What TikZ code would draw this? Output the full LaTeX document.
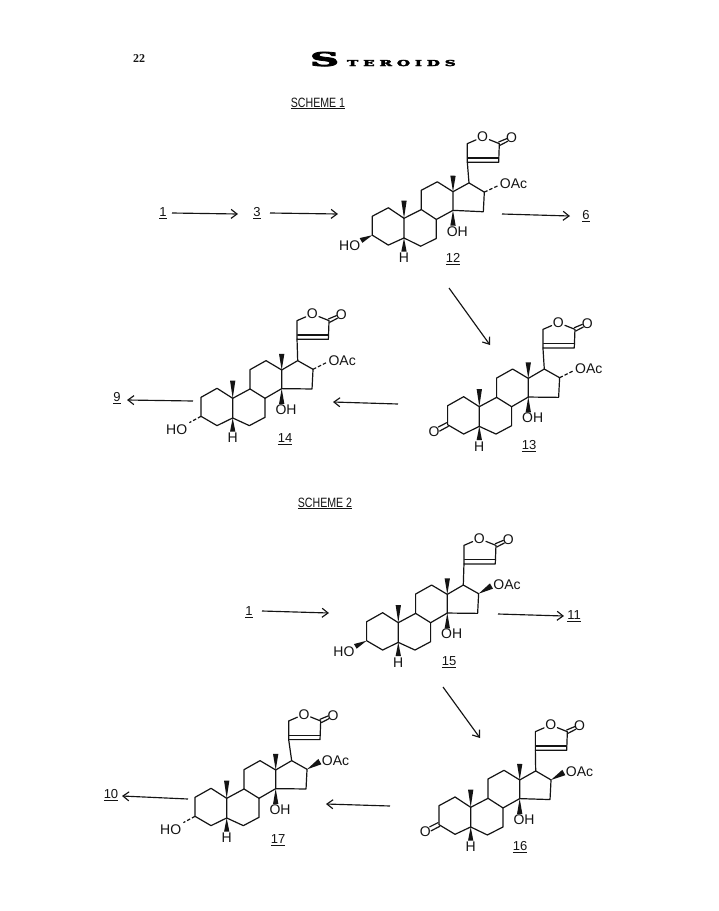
\documentclass[tikz,border=0pt]{standalone}
\usepackage{fontspec}
\setmainfont{Liberation Sans}
\newfontfamily\hdfont[BoldFeatures={FakeBold=4}]{DejaVu Serif}
\newfontfamily\pnfont{Liberation Serif}
\usetikzlibrary{arrows.meta,calc}
\definecolor{ink}{gray}{0.08}
\tikzset{
  bond/.style={draw=ink,line width=1.2pt,line join=round,line cap=round},
  hash/.style={draw=ink,line width=1.2pt,dash pattern=on 3.5pt off 2pt},
  lab/.style={text=ink,font=\fontsize{14}{15}\selectfont,inner sep=1pt},
  num/.style={text=ink,font=\fontsize{13}{14}\selectfont,inner sep=0pt},
  rxn/.style={draw=ink,line width=1.15pt,-{Straight Barb[length=6pt,width=9pt]}},
  headtxt/.style={text=ink,font=\fontsize{10}{11}\selectfont,inner sep=0pt},
}
\newcommand{\ulnum}[1]{\underline{#1}}
% #1,#2 position of C10; #3 slant; #4,#5 lactone offset; #6 prefix; #7 C3 group; #8 C16 group
\newcommand{\skeleton}[8]{%
\begin{scope}[shift={(#1,#2)},x={(0.3333pt,-#3*0.3333pt)},y=-0.3333pt]
 \coordinate (C3) at (-95,54); \coordinate (C5) at (0,59); \coordinate (C10) at (0,0);
 \coordinate (C13) at (147,-85); \coordinate (C14) at (147,-29);
 \coordinate (C17) at (195,-113); \coordinate (C16) at (241,-87); \coordinate (C15) at (238,-28);
 \draw[bond] (C3)--(-95,-3)--(-47,-30)--(C10)--(C5)--(-47,82)--cycle;
 \draw[bond] (C10)--(52,-28)--(97,0)--(97,57)--(50,82)--(C5);
 \draw[bond] (52,-28)--(52,-86)--(100,-113)--(C13)--(C14)--(97,0);
 \draw[bond] (C13)--(C17)--(C16)--(C15)--(C14);
 \fill[ink] (C10)--(-8,-53)--(8,-53)--cycle;
 \fill[ink] (C13)--(139,-133)--(155,-133)--cycle;
 \fill[ink] (C14)--(139,17)--(155,17)--cycle;
 \fill[ink] (C5)--(-8,100)--(8,100)--cycle;
 \node[lab] (#6-OH) at ($(C14)+(13,63)$) {OH};
 \node[lab] (#6-H) at ($(C5)+(0,60)$) {H};
 #7
 #8
\end{scope}
\begin{scope}[shift={(#1,#2)},x=0.3333pt,y=-0.3333pt,shift={(#4,#5)}]
 \coordinate (C20) at (192,-175); \coordinate (C21) at (192,-231);
 \coordinate (CO) at (288,-231); \coordinate (CH) at (286,-175);
 \node[lab] (#6-Or) at (238,-251) {O};
 \node[lab] (#6-Ok) at (325,-248) {O};
 \draw[bond] (C20)--(C21)--(#6-Or)--(CO)--(CH)--(C20);
 \draw[bond] (194,-188)--(285,-188);
 \draw[bond] ([shift={(-2,-5)}]CO)--([shift={(22,-15)}]CO);
 \draw[bond] ([shift={(2,5)}]CO)--([shift={(25,-7)}]CO);
\end{scope}
\draw[bond] (C17)--(C20);}
\newcommand{\hobold}[1]{\fill[ink] (C3)--(-133,64)--(-125,78)--cycle; \node[lab] (#1-HO) at ($(C3)+(-68,34)$) {HO};}
\newcommand{\hohash}[1]{\draw[hash] (C3)--($(C3)+(-35,19)$); \node[lab] (#1-HO) at ($(C3)+(-73,40)$) {HO};}
\newcommand{\keto}[1]{\node[lab] (#1-Oo) at ($(C3)+(-41,21)$) {O}; \draw[bond] ($(C3)+(2,5)$)--($(C3)+(-24,19)$); \draw[bond] ($(C3)+(-3,-6)$)--($(C3)+(-28,7)$);}
\newcommand{\acdash}[1]{\draw[hash] (C16)--($(C16)+(40,-20)$); \node[lab,anchor=west,inner sep=0pt] (#1-OAc) at ($(C16)+(46,-26)$) {OAc};}
\newcommand{\acwedge}[1]{\fill[ink] (C16)--($(C16)+(34,-31)$)--($(C16)+(43,-15)$)--cycle; \node[lab,anchor=west,inner sep=0pt] (#1-OAc) at ($(C16)+(44,-27)$) {OAc};}
\begin{document}
\begin{tikzpicture}[x=1pt,y=-1pt]
\useasboundingbox (0,0) rectangle (719,911);
\fill[white] (0,0) rectangle (719,911);
% page heading
\node[text=ink,inner sep=0pt,font=\pnfont\bfseries\fontsize{12}{13}\selectfont] (pg) at (139,59) {22};
\node[text=black,inner sep=0pt,anchor=base west] (title) at (310,66) {\hdfont\bfseries\scalebox{2.1}[1]{\fontsize{19}{20}\selectfont S}\hspace{8pt}\scalebox{1.85}[1]{\fontsize{8.2}{9}\selectfont T\hspace{2.6pt}E\hspace{2.6pt}R\hspace{2.6pt}O\hspace{2.6pt}I\hspace{2.6pt}D\hspace{2.6pt}S}};
\node[headtxt] (s1) at (318,108) {\underline{\smash{\scalebox{1.06}[1.35]{SCHEME 1}}}};
\node[headtxt] (s2) at (325,508) {\underline{\smash{\scalebox{1.06}[1.35]{SCHEME 2}}}};
% molecules
\skeleton{404}{218.3}{0.035}{-2}{7}{m12}{\hobold{m12}}{\acdash{m12}}
\skeleton{479.3}{406.7}{0}{-1}{-1}{m13}{\keto{m13}}{\acdash{m13}}
\skeleton{232.7}{398.3}{0}{1}{-2}{m14}{\hohash{m14}}{\acdash{m14}}
\skeleton{398.3}{622.7}{0}{5}{-1}{m15}{\hobold{m15}}{\acwedge{m15}}
\skeleton{470.7}{807.3}{0.02}{2}{4}{m16}{\keto{m16}}{\acwedge{m16}}
\skeleton{226.7}{798.3}{0}{-6}{-1}{m17}{\hohash{m17}}{\acwedge{m17}}
% compound numbers
\node[num] (n1) at (163,213) {\ulnum{1}};
\node[num] (n3) at (257,213) {\ulnum{3}};
\node[num] (n6) at (586,216) {\ulnum{6}};
\node[num] (n9) at (117,398) {\ulnum{9}};
\node[num] (n12) at (453,259) {\ulnum{12}};
\node[num] (n13) at (529,446) {\ulnum{13}};
\node[num] (n14) at (285,439) {\ulnum{14}};
\node[num] (nb1) at (249,612) {\ulnum{1}};
\node[num] (n11) at (574,616) {\ulnum{11}};
\node[num] (n10) at (111,795) {\ulnum{10}};
\node[num] (n15) at (449,662) {\ulnum{15}};
\node[num] (n16) at (520,847) {\ulnum{16}};
\node[num] (n17) at (278,840) {\ulnum{17}};
% free arrow ends
\coordinate (a1s) at (172,213); \coordinate (a1e) at (238,214);
\coordinate (a3s) at (270,213); \coordinate (a3e) at (338,214);
\coordinate (a6s) at (502,214); \coordinate (a6e) at (570,216);
\coordinate (d1s) at (449,288); \coordinate (d1e) at (490,345);
\coordinate (a13s) at (398,404); \coordinate (a13e) at (333,402);
\coordinate (a9s) at (193,401); \coordinate (a9e) at (127,400);
\coordinate (b1s) at (262,611); \coordinate (b1e) at (329,613);
\coordinate (a11s) at (498,614); \coordinate (a11e) at (564,616);
\coordinate (d2s) at (443,687); \coordinate (d2e) at (480,738);
\coordinate (a16s) at (390,806); \coordinate (a16e) at (326,804);
\coordinate (a10s) at (188,799); \coordinate (a10e) at (122,796);
\foreach \p/\q in {a1s/a1e,a3s/a3e,a6s/a6e,d1s/d1e,a13s/a13e,a9s/a9e,b1s/b1e,a11s/a11e,d2s/d2e,a16s/a16e,a10s/a10e}
  \draw[rxn] (\p) -- (\q);
\end{tikzpicture}
\end{document}
